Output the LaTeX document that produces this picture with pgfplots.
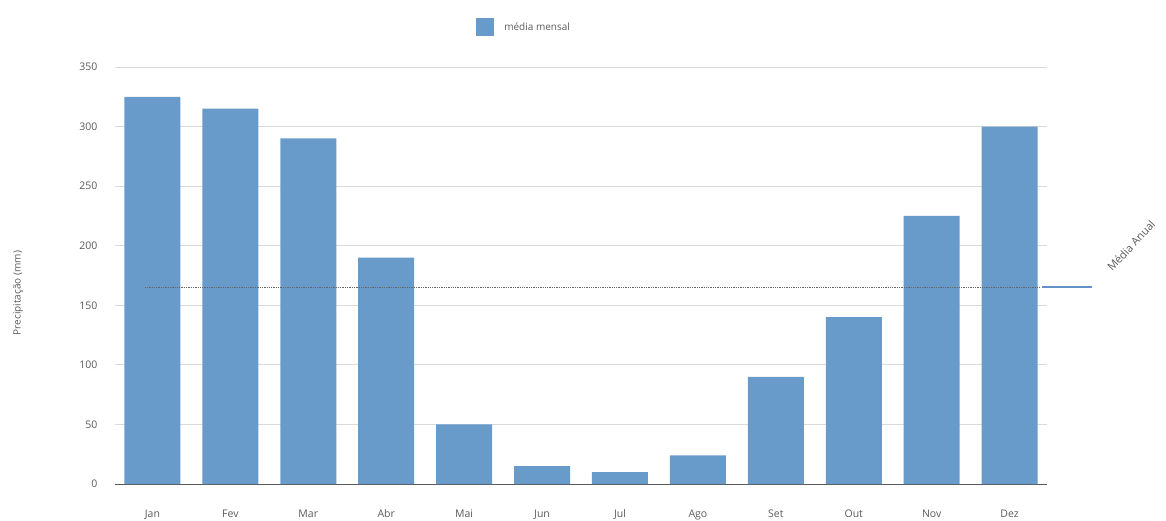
\documentclass[border=0pt]{standalone}
\usepackage{pgfplots}
\pgfplotsset{compat=1.18}
\usepackage{fontspec}
\setmainfont{Open Sans}
\definecolor{barblue}{RGB}{104,155,202}
\definecolor{gridgray}{RGB}{218,218,218}
\definecolor{txtgray}{RGB}{90,90,90}
\definecolor{avgblue}{RGB}{100,145,200}
\begin{document}
\begin{tikzpicture}
\path[use as bounding box] (0,0) rectangle (1166pt,520pt);
\begin{axis}[
  at={(115pt,36pt)}, anchor=south west,
  scale only axis, width=932pt, height=417pt,
  xmin=-0.48, xmax=11.48, ymin=0, ymax=350,
  xtick={0,...,11},
  xticklabels={Jan,Fev,Mar,Abr,Mai,Jun,Jul,Ago,Set,Out,Nov,Dez},
  ytick={0,50,...,350},
  ymajorgrids, grid style={gridgray, line width=0.8pt},
  axis x line=bottom, axis y line=left,
  x axis line style={-, draw=black!65, line width=1pt},
  y axis line style={draw=none},
  major tick length=0pt,
  tick label style={font=\fontsize{10.5}{12}\selectfont, text=txtgray},
  xticklabel style={yshift=-22pt},
  yticklabel style={xshift=-14pt},
  /pgf/number format/assume math mode=true,
  legend style={at={(rel axis cs:0.439,1.096)}, anchor=center, draw=none, fill=none,
    font=\fontsize{10}{12}\selectfont, text=txtgray, legend cell align=left},
  legend image code/.code={\fill[barblue] (0pt,-9pt) rectangle (18pt,9pt);},
  clip=false,
]
\addplot[ybar, bar width=56pt, bar shift=0pt, fill=barblue, draw=none] coordinates {
(0,325) (1,315) (2,290) (3,190) (4,50) (5,15) (6,10) (7,24) (8,90) (9,140) (10,225) (11,300)};
\addlegendentry{\hspace{8pt}média mensal}
\addplot[densely dotted, black!60, line width=1.3pt, forget plot] coordinates {(-0.1,165) (11.39,165)};
\addplot[draw=avgblue, line width=2pt, forget plot] coordinates {(11.41,165) (12.06,165)};
\node[rotate=47, font=\fontsize{11}{13}\selectfont, text=txtgray] at (axis cs:12.56,200) {Média Anual};
\node[rotate=90, font=\fontsize{10}{12}\selectfont, text=txtgray] at (rel axis cs:-0.104,0.458) {Precipitação (mm)};
\end{axis}
\end{tikzpicture}
\end{document}
